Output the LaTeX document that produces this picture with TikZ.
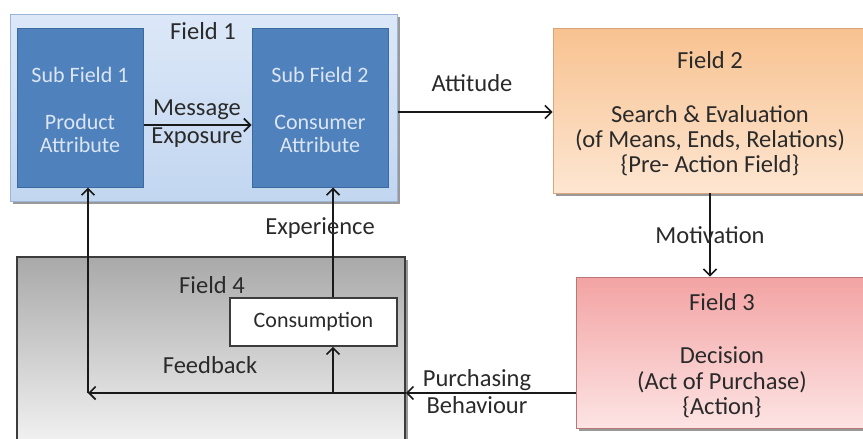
\documentclass[tikz,border=0pt]{standalone}
\usepackage{fontspec}
\setmainfont{Carlito}
\usetikzlibrary{arrows.meta}
\definecolor{txt}{HTML}{2A2A2A}
\definecolor{sfblue}{HTML}{4F81BD}
\definecolor{sfborder}{HTML}{3A6AA0}
\definecolor{sftext}{HTML}{DCE6F2}
\definecolor{fonetop}{HTML}{DCE8F8}
\definecolor{fonebot}{HTML}{C2D6F0}
\definecolor{foneline}{HTML}{9DB5D6}
\definecolor{ftwotop}{HTML}{F8C290}
\definecolor{ftwobot}{HTML}{FDE6D2}
\definecolor{ftwoline}{HTML}{D9A57A}
\definecolor{fthreetop}{HTML}{F3A3A3}
\definecolor{fthreebot}{HTML}{FDE4E4}
\definecolor{fthreeline}{HTML}{B87878}
\definecolor{ffourtop}{HTML}{A9A9A9}
\definecolor{ffourbot}{HTML}{F4F4F4}
\definecolor{ffourline}{HTML}{3C3C3C}
\tikzset{
  big/.style={font=\fontsize{24.5}{28}\selectfont, text=txt, inner sep=0pt},
  small/.style={font=\fontsize{22}{26}\selectfont, text=sftext, inner sep=0pt},
  box/.style={rectangle, inner sep=0pt},
  shadowed/.style={preaction={fill=black!40, transform canvas={xshift=3pt,yshift=-3pt}}},
  arr/.style={line width=2pt, draw=black!90, -{Straight Barb[length=6.5pt,width=13pt,line width=1.6pt]}},
}
\begin{document}
\begin{tikzpicture}[x=1pt,y=-1pt]
\useasboundingbox (0,0) rectangle (863,439);
% Field 1
\node[box, shadowed, top color=fonetop, bottom color=fonebot, draw=foneline, line width=1pt, minimum width=387pt, minimum height=187pt] (f1) at (203.5,107.5) {};
\node[box, fill=sfblue, draw=sfborder, line width=1pt, minimum width=126pt, minimum height=159pt] (sf1) at (80,107.5) {};
\node[box, fill=sfblue, draw=sfborder, line width=1pt, minimum width=136pt, minimum height=159pt] (sf2) at (320,107.5) {};
\node[big] (t1) at (203,31) {Field 1};
\node[small] (s1a) at (80,75) {Sub Field 1};
\node[small] (s1b) at (80,122) {Product};
\node[small] (s1c) at (80,145) {Attribute};
\node[small] (s2a) at (320,75) {Sub Field 2};
\node[small] (s2b) at (320,122) {Consumer};
\node[small] (s2c) at (320,145) {Attribute};
% Field 2
\node[box, shadowed, top color=ftwotop, bottom color=ftwobot, draw=ftwoline, line width=0.8pt, minimum width=311pt, minimum height=165pt] (f2) at (708.5,110.5) {};
\node[big] (t2) at (710,60) {Field 2};
\node[big] (t2a) at (710,114) {Search \& Evaluation};
\node[big] (t2b) at (710,140) {(of Means, Ends, Relations)};
\node[big] (t2c) at (710,165) {\{Pre- Action Field\}};
% Field 3
\node[box, shadowed, top color=fthreetop, bottom color=fthreebot, draw=fthreeline, line width=0.8pt, minimum width=289pt, minimum height=151pt] (f3) at (720.5,352.5) {};
\node[big] (t3) at (722,302) {Field 3};
\node[big] (t3a) at (722,355) {Decision};
\node[big] (t3b) at (722,382) {(Act of Purchase)};
\node[big] (t3c) at (722,407) {\{Action\}};
% Field 4
\node[box, shadowed, top color=ffourtop, bottom color=ffourbot, draw=ffourline, line width=1.6pt, minimum width=388pt, minimum height=192pt] (f4) at (211,353) {};
\node[big] (t4) at (212,285) {Field 4};
\node[box, fill=white, draw=ffourline, line width=1.6pt, minimum width=167pt, minimum height=48pt, font=\fontsize{22}{26}\selectfont, text=txt] (cons) at (313.5,322) {Consumption};
\node[big] (fb) at (210,365) {Feedback};
% coordinates
\coordinate (c1) at (88,393);
\coordinate (c2) at (333,393);
\coordinate (mtop) at (710,193);
% arrows
\draw[arr] ([yshift=-17.5pt]sf1.east) -- ([yshift=-17.5pt]sf2.west);
\node[big] (m1) at (197,110) {Message};
\node[big] (m2) at (197,138) {Exposure};
\draw[arr] (f1.east |- 0,112) -- (f2.west |- 0,112);
\node[big] (att) at (472,83) {Attitude};
\draw[arr] (mtop) -- (mtop |- f3.north);
\node[big] (mot) at (710,235) {Motivation};
\draw[arr] (f3.west |- c1) -- (f4.east |- c1);
\node[big] (pb1) at (477,380) {Purchasing};
\node[big] (pb2) at (477,405) {Behaviour};
\draw[arr] (f4.east |- c1) -- (c1);
\draw[arr] (c1) -- (c1 |- sf1.south);
\draw[arr] (c2) -- (c2 |- cons.south);
\draw[arr] (c2 |- cons.north) -- (c2 |- sf2.south);
\node[big] (exp) at (320,228) {Experience};
\end{tikzpicture}
\end{document}
